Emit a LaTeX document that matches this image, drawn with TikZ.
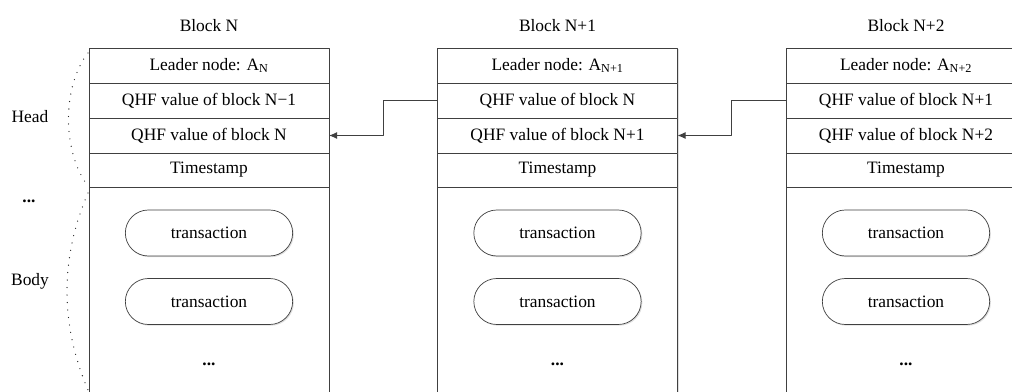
\documentclass[tikz,border=0pt]{standalone}
\usepackage{fontspec}
\setmainfont{Liberation Serif}
\usetikzlibrary{arrows.meta,calc,shapes.misc,shadows}
\definecolor{lineC}{gray}{0.25}
\tikzset{
	row/.style={draw=lineC, fill=white, line width=0.9pt, minimum width=240pt, minimum height=35pt, inner sep=0pt, outer sep=0pt,
		drop shadow={opacity=0.25, shadow xshift=1.2pt, shadow yshift=-1.2pt}},
	tx/.style={rounded rectangle, draw=lineC, fill=white, line width=0.7pt, minimum width=174pt, minimum height=46pt,
		drop shadow={opacity=0.25, shadow xshift=1.2pt, shadow yshift=-1.2pt}},
	link/.style={draw=lineC, line width=1pt, -{Latex[length=8pt,width=7pt]}},
	brace/.style={draw=black!85, line width=1.3pt, line cap=round, dash pattern=on 0pt off 7.5pt}
}
\begin{document}
\begin{tikzpicture}[x=1pt, y=-1pt, font=\fontsize{17.4}{20}\selectfont, line join=round]
	\clip (0,0) rectangle (1012,391);
	% blocks
	\foreach \i/\xl/\cur/\prev in {A/89/N/N−1, B/437.5/N+1/N, C/786/N+2/N+1}{
		\node (title\i) at (\xl+120,26) {Block \cur};
		\node[row, anchor=north west] (lead\i) at (\xl,48) {Leader node: A\textsubscript{\cur}};
		\node[row, anchor=north] (prev\i) at (lead\i.south) {QHF value of block \prev};
		\node[row, anchor=north] (cur\i) at (prev\i.south) {QHF value of block \cur};
		\node[row, anchor=north, minimum height=34pt] (time\i) at (cur\i.south) {Timestamp};
		\node[row, anchor=north, minimum height=230pt] (body\i) at (time\i.south) {};
		\node[tx] (tx\i1) at ([yshift=-46pt]body\i.north) {transaction};
		\node[tx] (tx\i2) at ([yshift=-114.5pt]body\i.north) {transaction};
		\node (dots\i) at ([yshift=-177pt]body\i.north) {\textbf{...}};
	}
	% links between blocks
	\coordinate (midAB) at ($(curA.east)!0.5!(prevB.west)$);
	\coordinate (midBC) at ($(curB.east)!0.5!(prevC.west)$);
	\draw[link] (prevB.west) -| (midAB) |- (curA.east);
	\draw[link] (prevC.west) -| (midBC) |- (curB.east);
	% head and body
	\node (lblHead) at (30,117) {Head};
	\node (lblGap) at (29,201) {\textbf{...}};
	\node (lblBody) at (30,281) {Body};
	\draw[brace] (88,53) .. controls (62,86) and (62,152) .. (88,186);
	\draw[brace] (88,193) .. controls (60,258) and (60,324) .. (88,390);
\end{tikzpicture}
\end{document}
